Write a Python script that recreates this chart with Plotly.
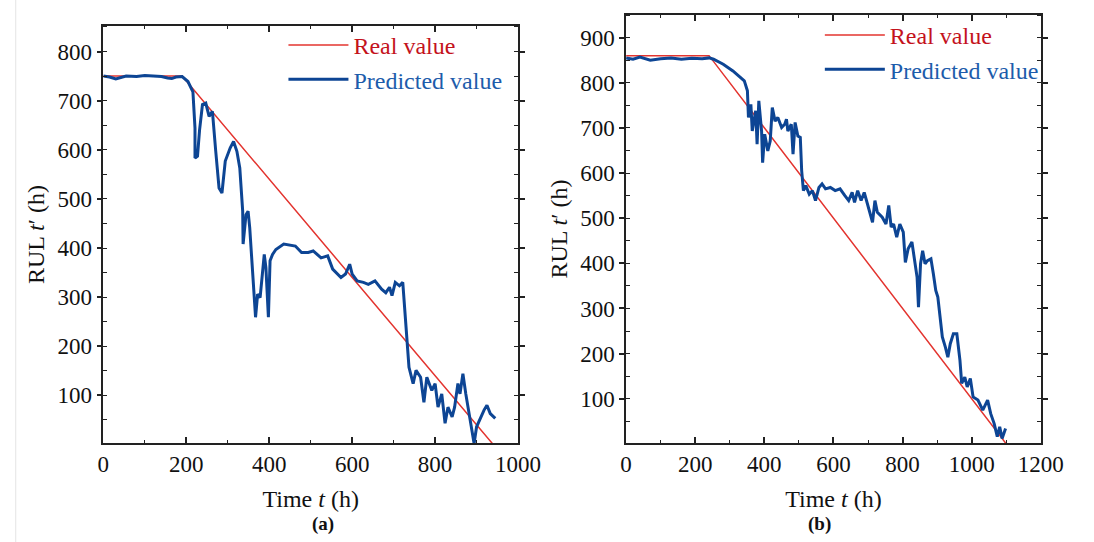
import plotly.graph_objects as go

# ---------------- data: panel (a) ----------------
real_a_t = [0, 190, 940]
real_a_v = [750, 750, 0]

pred_a_t = [0, 15, 30, 40, 55, 80, 100, 120, 140, 155, 165, 175, 190, 204, 216, 221, 221, 227, 232, 239,
            247, 255, 263, 271, 279, 286, 294, 306, 314, 322, 329, 336, 337, 344, 349, 353, 361, 367, 372,
            378, 388, 392, 398, 402, 408, 416, 435, 463, 478, 494, 506, 525, 541, 553, 573, 584, 594, 600,
            612, 627, 639, 655, 671, 681, 690, 696, 704, 714, 722, 728, 733, 737, 747, 754, 765, 773, 780,
            792, 800, 807, 816, 824, 831, 841, 847, 855, 860, 867, 874, 882, 890, 894, 900, 910, 918, 925,
            933, 945]
pred_a_v = [750, 748, 744, 747, 750, 749, 751, 750, 749, 746, 745, 748, 749, 739, 718, 644, 583, 587, 640, 692,
            695, 668, 678, 597, 522, 512, 577, 604, 617, 597, 563, 475, 408, 468, 475, 441, 347, 259, 306,
            299, 387, 360, 259, 374, 387, 397, 408, 404, 391, 391, 394, 380, 384, 357, 340, 347, 367, 347,
            333, 330, 326, 333, 316, 309, 320, 303, 330, 323, 330, 259, 211, 157, 124, 151, 137, 86, 137,
            110, 124, 76, 103, 43, 76, 56, 76, 124, 103, 144, 103, 63, 22, 2, 36, 56, 70, 80,
            63, 53]

# ---------------- data: panel (b) ----------------
real_b_t = [0, 240, 1100]
real_b_v = [860, 860, 0]

pred_b_t = [0, 20, 40, 70, 100, 130, 160, 190, 220, 240, 253, 281, 309, 342, 351, 354, 361, 365, 375, 379,
            384, 392, 395, 401, 410, 417, 423, 431, 439, 450, 459, 464, 468, 478, 483, 489, 497, 504, 508,
            513, 520, 530, 539, 548, 558, 567, 577, 591, 605, 619, 633, 644, 654, 661, 670, 680, 689, 699,
            713, 720, 727, 741, 752, 760, 767, 774, 783, 792, 802, 808, 816, 827, 835, 842, 846, 852, 858,
            865, 872, 882, 889, 896, 902, 908, 915, 924, 931, 938, 947, 957, 966, 971, 980, 987, 996,
            1004, 1018, 1032, 1046, 1055, 1065, 1074, 1081, 1088, 1098]
pred_b_v = [855, 852, 857, 850, 853, 855, 852, 854, 853, 855, 852, 841, 826, 804, 782, 723, 752, 693, 738, 664,
            760, 693, 623, 686, 649, 671, 745, 715, 723, 701, 708, 719, 693, 708, 642, 712, 682, 679, 605,
            561, 572, 553, 561, 539, 568, 576, 565, 568, 561, 565, 550, 539, 557, 535, 561, 539, 557, 531,
            491, 539, 513, 502, 487, 528, 480, 487, 458, 487, 469, 402, 432, 447, 406, 369, 303, 399, 428,
            399, 406, 410, 377, 340, 325, 288, 237, 214, 192, 222, 244, 244, 185, 134, 148, 126, 145,
            104, 97, 75, 97, 67, 45, 16, 38, 12, 34]

RED = "#e3342f"
BLUE = "#0d4594"
FONT = "Liberation Serif"

fig = go.Figure()
for t, v, xa, ya, lg in [(real_a_t, real_a_v, "x", "y", "legend"), (real_b_t, real_b_v, "x2", "y2", "legend2")]:
    fig.add_trace(go.Scatter(x=t, y=v, xaxis=xa, yaxis=ya, mode="lines", legend=lg,
                             name="<span style='color:#c4121c'>Real value</span>",
                             line=dict(color=RED, width=1.5)))
for t, v, xa, ya, lg in [(pred_a_t, pred_a_v, "x", "y", "legend"), (pred_b_t, pred_b_v, "x2", "y2", "legend2")]:
    fig.add_trace(go.Scatter(x=t, y=v, xaxis=xa, yaxis=ya, mode="lines", legend=lg,
                             name="<span style='color:#1d5cab'>Predicted value</span>",
                             line=dict(color=BLUE, width=3)))

def xax(domain, rng, anchor):
    return dict(domain=domain, range=rng, anchor=anchor, dtick=200, tick0=0,
                showline=True, linecolor="#222", linewidth=1.5, mirror="allticks",
                ticks="inside", ticklen=6, tickwidth=1.5, tickcolor="#222",
                minor=dict(dtick=100, ticks="inside", ticklen=3, tickcolor="#222", tickwidth=1.2),
                showgrid=False, zeroline=False,
                tickfont=dict(family=FONT, size=23, color="#111"),
                title=dict(text="Time <i>t</i> (h)", font=dict(family=FONT, size=24, color="#111"), standoff=14))

def yax(domain, rng, anchor):
    return dict(domain=domain, range=rng, anchor=anchor, dtick=100, tick0=0,
                showline=True, linecolor="#222", linewidth=1.5, mirror="allticks",
                ticks="outside", ticklen=5, tickwidth=1.5, tickcolor="#222",
                minor=dict(dtick=50, ticks="inside", ticklen=4, tickcolor="#222", tickwidth=1.2),
                showgrid=False, zeroline=False,
                tickfont=dict(family=FONT, size=23, color="#111"),
                title=dict(text="RUL <i>t</i>′ (h)", font=dict(family=FONT, size=24, color="#111"), standoff=6))

W, H = 1094, 542
fig.update_layout(
    width=W, height=H, margin=dict(l=0, r=0, t=0, b=0),
    paper_bgcolor="white", plot_bgcolor="white",
    xaxis=xax([100 / W, 526 / W], [0, 1000], "y"),
    yaxis=yax([(H - 443) / H, (H - 26) / H], [3, 852], "x"),
    xaxis2=xax([637 / W, 1063 / W], [0, 1200], "y2"),
    yaxis2=yax([(H - 443) / H, (H - 15) / H], [2, 950], "x2"),
    legend=dict(x=285 / W, y=1 - 23 / H, xanchor="left", yanchor="top", bgcolor="rgba(0,0,0,0)",
                font=dict(family=FONT, size=24), itemwidth=60, tracegroupgap=0),
    legend2=dict(x=836 / W, y=1 - 13 / H, xanchor="left", yanchor="top", bgcolor="rgba(0,0,0,0)",
                 font=dict(family=FONT, size=24), itemwidth=60, tracegroupgap=0),
    annotations=[
        dict(text="<b>(a)</b>", x=312 / W, y=1 - 524 / H, xref="paper", yref="paper", showarrow=False,
             yanchor="middle", font=dict(family=FONT, size=19, color="#111")),
        dict(text="<b>(b)</b>", x=850 / W, y=1 - 524 / H, xref="paper", yref="paper", showarrow=False,
             yanchor="middle", font=dict(family=FONT, size=19, color="#111")),
    ],
    shapes=[dict(type="line", xref="paper", yref="paper", x0=10 / W, x1=10 / W, y0=0, y1=1,
                 line=dict(color="#e4e4e4", width=1))],
)

fig.write_html("out.html")
